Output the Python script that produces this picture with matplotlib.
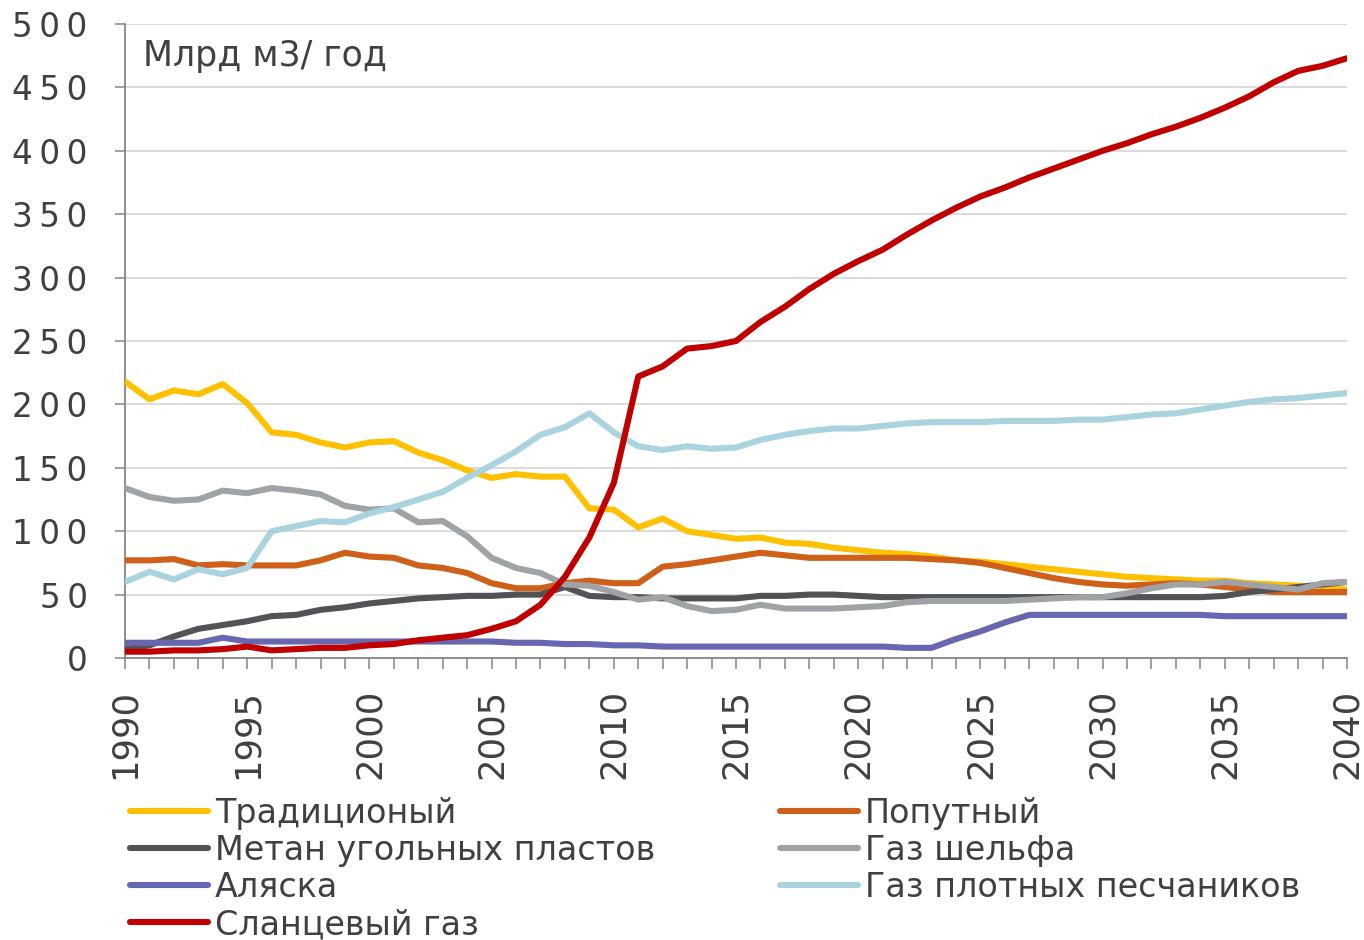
import matplotlib
matplotlib.use("Agg")
import matplotlib.pyplot as plt
from matplotlib.lines import Line2D

plt.rcParams['font.family'] = ['DejaVu Sans']

years = list(range(1990, 2041))

traditional = [218, 204, 211, 208, 216, 201, 178, 176, 170, 166,
               170, 171, 162, 156, 148, 142, 145, 143, 143, 118,
               117, 103, 110, 100, 97, 94, 95, 91, 90, 87,
               85, 83, 82, 80, 77, 76, 74, 72, 70, 68,
               66, 64, 63, 62, 61, 61, 59, 58, 57, 55, 54]
associated = [77, 77, 78, 73, 74, 73, 73, 73, 77, 83,
              80, 79, 73, 71, 67, 59, 55, 55, 59, 61,
              59, 59, 72, 74, 77, 80, 83, 81, 79, 79,
              79, 79, 79, 78, 77, 75, 71, 67, 63, 60,
              58, 57, 58, 59, 58, 56, 54, 52, 52, 52, 52]
coalbed = [7, 10, 17, 23, 26, 29, 33, 34, 38, 40,
           43, 45, 47, 48, 49, 49, 50, 50, 56, 49,
           48, 48, 47, 47, 47, 47, 49, 49, 50, 50,
           49, 48, 48, 48, 48, 48, 48, 48, 48, 48,
           48, 48, 48, 48, 48, 49, 52, 54, 56, 58, 60]
offshore = [134, 127, 124, 125, 132, 130, 134, 132, 129, 120,
            117, 118, 107, 108, 96, 79, 71, 67, 58, 57,
            52, 46, 48, 41, 37, 38, 42, 39, 39, 39,
            40, 41, 44, 45, 45, 45, 45, 46, 47, 48,
            48, 51, 55, 58, 58, 60, 58, 56, 54, 59, 60]
alaska = [12, 12, 12, 12, 16, 13, 13, 13, 13, 13,
          13, 13, 13, 13, 13, 13, 12, 12, 11, 11,
          10, 10, 9, 9, 9, 9, 9, 9, 9, 9,
          9, 9, 8, 8, 15, 21, 28, 34, 34, 34,
          34, 34, 34, 34, 34, 33, 33, 33, 33, 33, 33]
tight = [60, 68, 62, 70, 66, 71, 100, 104, 108, 107,
         114, 119, 125, 131, 142, 152, 163, 176, 182, 193,
         178, 167, 164, 167, 165, 166, 172, 176, 179, 181,
         181, 183, 185, 186, 186, 186, 187, 187, 187, 188,
         188, 190, 192, 193, 196, 199, 202, 204, 205, 207, 209]
shale = [5, 5, 6, 6, 7, 9, 6, 7, 8, 8,
         10, 11, 14, 16, 18, 23, 29, 42, 64, 95,
         138, 222, 230, 244, 246, 250, 265, 277, 291, 303,
         313, 322, 334, 345, 355, 364, 371, 379, 386, 393,
         400, 406, 413, 419, 426, 434, 443, 454, 463, 467, 473]

series_names = ["Традиционый", "Попутный", "Метан угольных пластов",
                "Газ шельфа", "Аляска", "Газ плотных песчаников",
                "Сланцевый газ"]
series_values = [traditional, associated, coalbed, offshore, alaska, tight, shale]
series_colors = ["#FFC000", "#CF6019", "#535357", "#A0A3A6", "#6767B1",
                 "#A9D3DF", "#C00000"]

y_ticks = [0, 50, 100, 150, 200, 250, 300, 350, 400, 450, 500]
x_major = list(range(1990, 2041, 5))
unit_label = "Млрд м3/ год"

text_color = "#404040"
W, H = 1364, 940
fig = plt.figure(figsize=(W / 100, H / 100), dpi=100)
ax = fig.add_axes([125 / W, 1 - 658 / H, 1222 / W, 634 / H])

for name, vals, col in zip(series_names, series_values, series_colors):
    ax.plot(years, vals, color=col, lw=4.4, solid_joinstyle='round',
            solid_capstyle='round', label=name, zorder=3)

ax.set_xlim(1990, 2040)
ax.set_ylim(0, 500)
ax.set_yticks(y_ticks, ["\u2009".join(str(v)) for v in y_ticks])
ax.set_xticks(x_major, [str(v) for v in x_major])
ax.set_xticks(years, minor=True)
ax.grid(axis='y', color='#D4D4D4', lw=1.2, zorder=0)
for s in ['top', 'right']:
    ax.spines[s].set_visible(False)
for s in ['left', 'bottom']:
    ax.spines[s].set_color('#868686')
    ax.spines[s].set_linewidth(1.3)
ax.tick_params(axis='y', direction='out', length=7, width=1.1, color='#868686',
               pad=20, labelsize=23.5, labelcolor=text_color)
ax.tick_params(axis='x', which='both', direction='out', length=8, width=1.1,
               color='#868686')
ax.tick_params(axis='x', which='major', pad=14, labelsize=25.5,
               labelcolor=text_color, labelrotation=90)

ax.text((143 - 125) / 1222, 1 - (56 - 24) / 634, unit_label, transform=ax.transAxes,
        fontsize=25, color=text_color, va='center', ha='left')

def mk(i):
    return Line2D([], [], color=series_colors[i], lw=4.4, solid_capstyle='round')

leg_kw = dict(loc='upper left', frameon=False, fontsize=24, handlelength=2.35,
              handletextpad=0.2, labelspacing=0.12, borderpad=0.0,
              borderaxespad=0.0, labelcolor=text_color)
left_idx = [0, 2, 4, 6]
right_idx = [1, 3, 5]
fig.legend([mk(i) for i in left_idx], [series_names[i] for i in left_idx],
           bbox_to_anchor=(130 / W, 1 - 797 / H), **leg_kw)
fig.legend([mk(i) for i in right_idx], [series_names[i] for i in right_idx],
           bbox_to_anchor=(780 / W, 1 - 797 / H), **leg_kw)

fig.savefig("out.png", dpi=100)
